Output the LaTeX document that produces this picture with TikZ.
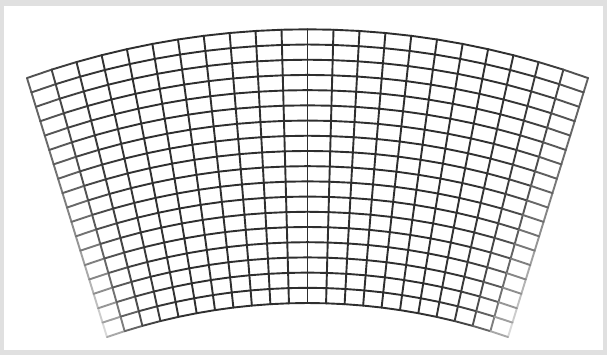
\documentclass[tikz,border=0pt]{standalone}
\tikzset{gridline/.style={line width=1.9pt,line cap=round}}
\newcommand\mygridpt[3]{%
  \pgfmathsetmacro\gu{(#1-11)/11}%
  \pgfmathsetmacro\gv{#2/18}%
  \pgfmathsetmacro\gxo{307.5+832.2*sin(19.7*\gu)}%
  \pgfmathsetmacro\gyo{861.5-832.2*cos(19.7*\gu)}%
  \pgfmathsetmacro\gxi{307.5+608.2*sin(19.25*\gu)}%
  \pgfmathsetmacro\gyi{911.2-608.2*cos(19.25*\gu)}%
  \coordinate (#3) at ({\gxo+(\gxi-\gxo)*\gv},{\gyo+(\gyi-\gyo)*\gv});%
}
\newcommand\myshade[2]{% #1 = u in [-1,1], #2 = v in [0,1]
  \pgfmathsetmacro\gk{82*(1-(abs(#1))^8*(0.25+0.6*(#2)^2))}%
}
\begin{document}
\begin{tikzpicture}[x=1pt,y=-1pt]
\fill[black!12] (0,0) rectangle (607,355);
\fill[white] (4,6) rectangle (603,350);
% radial lines
\foreach \i in {0,...,22}{
  \foreach \j in {0,...,17}{
    \pgfmathtruncatemacro\jn{\j+1}
    \mygridpt{\i}{\j}{a}
    \mygridpt{\i}{\jn}{b}
    \myshade{(\i-11)/11}{(\j+0.5)/18}
    \draw[gridline,color=black!\gk] (a) -- (b);
  }
}
% arc lines
\foreach \j in {0,...,18}{
  \foreach \i in {0,...,21}{
    \pgfmathtruncatemacro\in{\i+1}
    \mygridpt{\i}{\j}{a}
    \mygridpt{\in}{\j}{b}
    \myshade{(\i+0.5-11)/11}{\j/18}
    \draw[gridline,color=black!\gk] (a) -- (b);
  }
}
\end{tikzpicture}
\end{document}
